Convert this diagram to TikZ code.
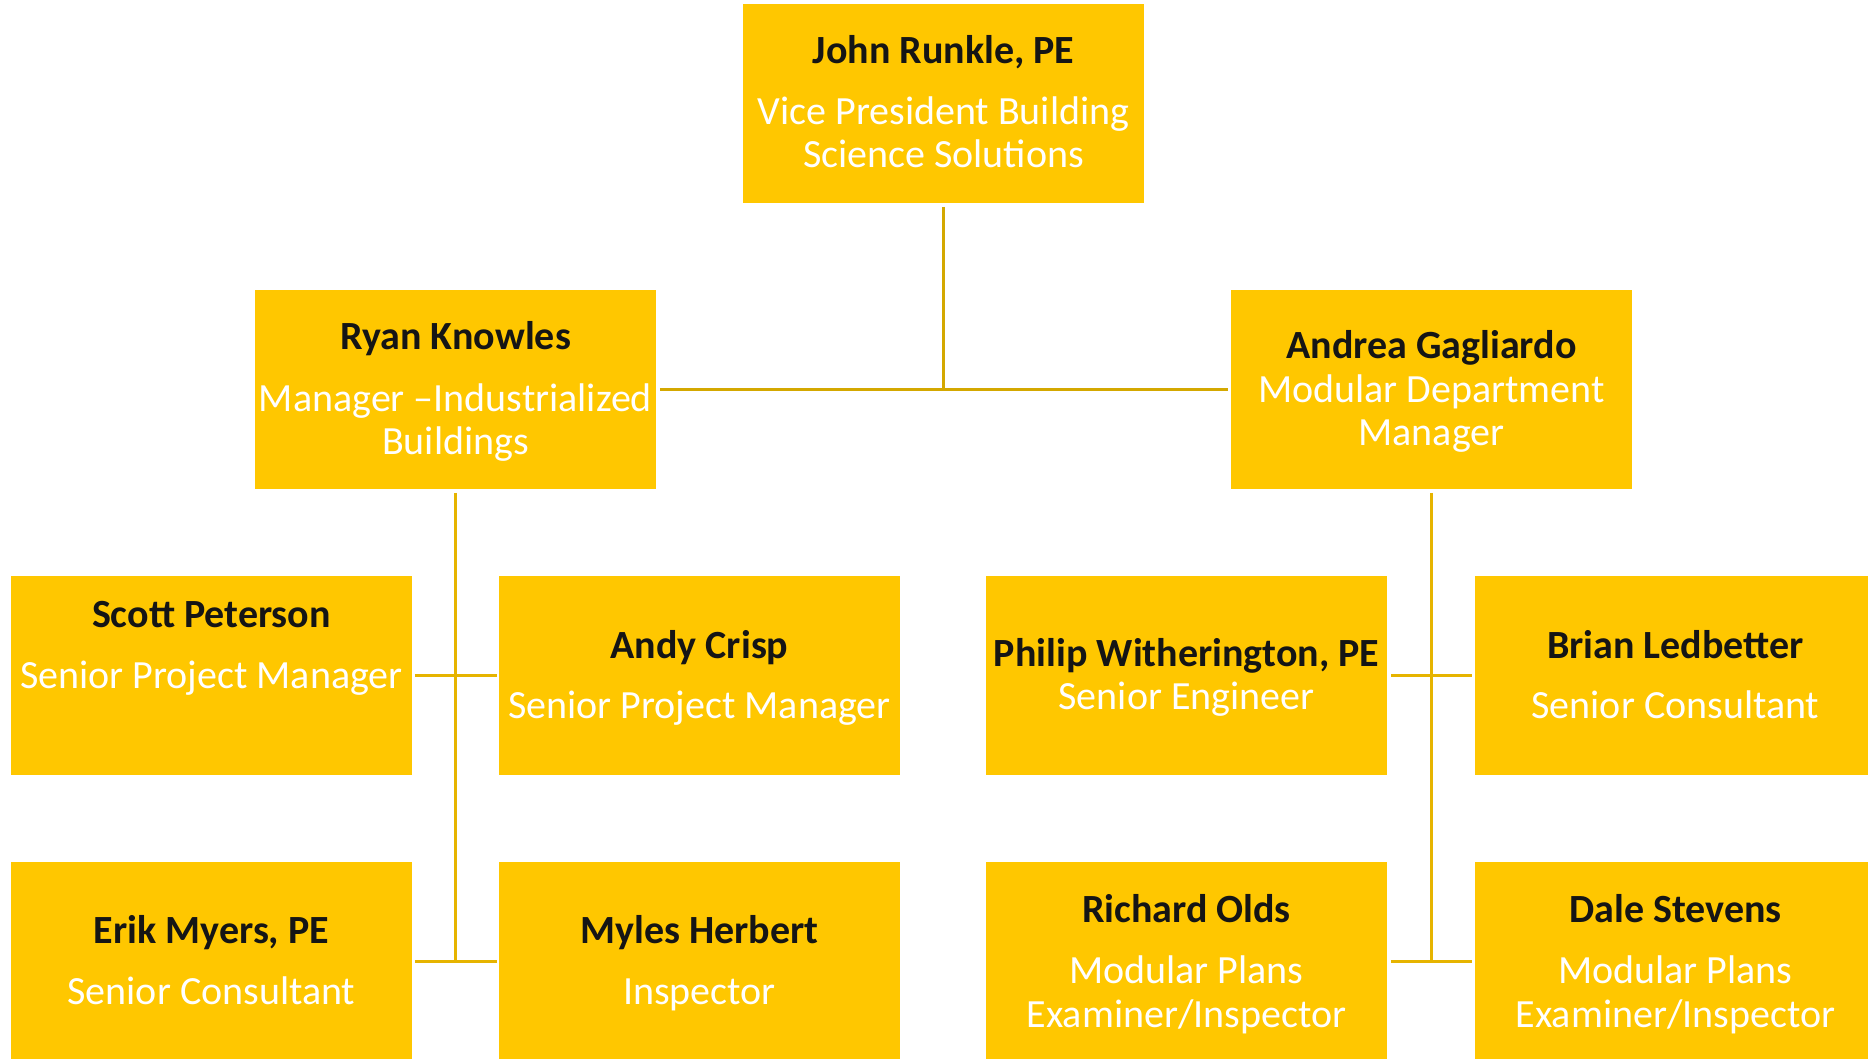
\documentclass[tikz,border=0pt]{standalone}
\usepackage{fontspec}
\setmainfont{Carlito}
\definecolor{boxc}{HTML}{FFC700}
\definecolor{topc}{HTML}{D4A800}
\definecolor{brc}{HTML}{E6B400}
\definecolor{namec}{HTML}{151515}
\begin{document}
\begin{tikzpicture}[x=0.5pt,y=-0.5pt,
  box/.style={rectangle,fill=boxc,draw=none,inner sep=0pt,anchor=north west,minimum width=200.5pt,minimum height=99.5pt},
  nm/.style={anchor=base,inner sep=0pt,text=namec,yshift=-1pt,font=\bfseries\fontsize{20pt}{22pt}\selectfont},
  tt/.style={anchor=base,inner sep=0pt,text=white,yshift=-1.5pt,font=\fontsize{20pt}{22pt}\selectfont},
  topline/.style={draw=topc,line width=1.5pt},
  brline/.style={draw=brc,line width=1.5pt}]
\useasboundingbox (0,0) rectangle (1868,1059);
% boxes
\node[box] (john) at (743,4) {};
\node[box] (ryan) at (255,290) {};
\node[box] (andrea) at (1231,290) {};
\node[box] (scott) at (11,576) {};
\node[box] (andy) at (499,576) {};
\node[box] (philip) at (986,576) {};
\node[box] (brian) at (1475,576) {};
\node[box] (erik) at (11,862) {};
\node[box] (myles) at (499,862) {};
\node[box] (richard) at (986,862) {};
\node[box] (dale) at (1475,862) {};
% texts
\node[nm] (johnN) at (943.5,62) {John Runkle, PE};
\node[tt] (johnT1) at (943.5,122) {Vice President Building};
\node[tt] (johnT2) at (943.5,165) {Science Solutions};
\node[nm] (ryanN) at (455.5,347) {Ryan Knowles};
\node[tt] (ryanT1) at (455.5,408) {Manager –Industrialized};
\node[tt] (ryanT2) at (455.5,451) {Buildings};
\node[nm] (andreaN) at (1431.5,356) {Andrea Gagliardo};
\node[tt] (andreaT1) at (1431.5,399) {Modular Department};
\node[tt] (andreaT2) at (1431.5,442) {Manager};
\node[nm] (scottN) at (211.5,625) {Scott Peterson};
\node[tt] (scottT) at (211.5,685) {Senior Project Manager};
\node[nm] (andyN) at (699.5,656) {Andy Crisp};
\node[tt] (andyT) at (699.5,715) {Senior Project Manager};
\node[nm] (philipN) at (1186.5,664) {Philip Witherington, PE};
\node[tt] (philipT) at (1186.5,706) {Senior Engineer};
\node[nm] (brianN) at (1675.5,656) {Brian Ledbetter};
\node[tt] (brianT) at (1675.5,715) {Senior Consultant};
\node[nm] (erikN) at (211.5,941) {Erik Myers, PE};
\node[tt] (erikT) at (211.5,1001) {Senior Consultant};
\node[nm] (mylesN) at (699.5,941) {Myles Herbert};
\node[tt] (mylesT) at (699.5,1001) {Inspector};
\node[nm] (richardN) at (1186.5,920) {Richard Olds};
\node[tt] (richardT1) at (1186.5,980) {Modular Plans};
\node[tt] (richardT2) at (1186.5,1024) {Examiner/Inspector};
\node[nm] (daleN) at (1675.5,920) {Dale Stevens};
\node[tt] (daleT1) at (1675.5,980) {Modular Plans};
\node[tt] (daleT2) at (1675.5,1024) {Examiner/Inspector};
% connectors
\draw[topline] ([yshift=-1.5pt]john.south) -- (john.south |- ryan.east);
\draw[topline] ([xshift=1.5pt]ryan.east) -- ([xshift=-1.5pt]andrea.west);
\draw[brline] ([yshift=-1.5pt]ryan.south) -- (ryan.south |- erik.east);
\draw[brline] ([xshift=1pt]scott.east) -- ([xshift=-1pt]andy.west);
\draw[brline] ([xshift=1pt]erik.east) -- ([xshift=-1pt]myles.west);
\draw[brline] ([yshift=-1.5pt]andrea.south) -- (andrea.south |- dale.west);
\draw[brline] ([xshift=1.5pt]philip.east) -- ([xshift=-1.5pt]brian.west);
\draw[brline] ([xshift=1.5pt]richard.east) -- ([xshift=-1.5pt]dale.west);
\end{tikzpicture}
\end{document}
